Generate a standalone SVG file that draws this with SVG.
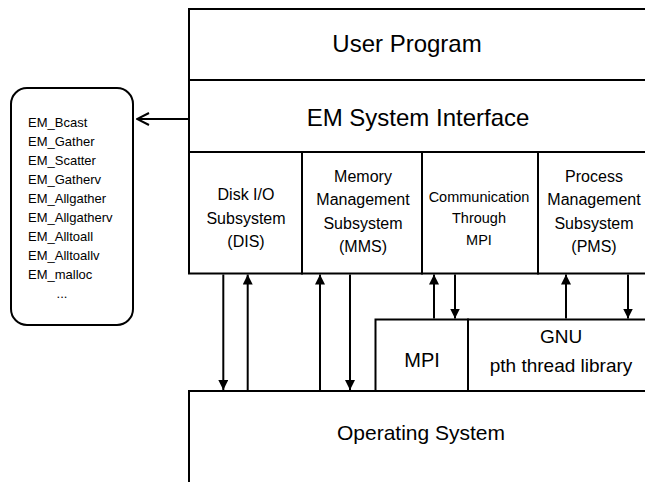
<svg xmlns="http://www.w3.org/2000/svg" width="645" height="482" viewBox="0 0 645 482">
<style>
  .box { fill: #fff; stroke: #000; stroke-width: 2; }
  .ln { stroke: #000; stroke-width: 2; fill: none; }
  text { font-family: "Liberation Sans", Arial, sans-serif; fill: #000; }
  .c { text-anchor: middle; }
  .big { font-size: 24px; }
  .sub { font-size: 16px; }
  .com { font-size: 14.5px; }
  .api { font-size: 13px; }
</style>
<defs>
  <marker id="tri" viewBox="0 0 10 10" refX="10" refY="5" markerWidth="10" markerHeight="10" markerUnits="userSpaceOnUse" orient="auto">
    <path d="M0,0 L10,5 L0,10 z" fill="#000"/>
  </marker>
  <marker id="open" viewBox="0 0 14 14" refX="13" refY="7" markerWidth="14" markerHeight="14" markerUnits="userSpaceOnUse" orient="auto">
    <path d="M1,1 L13,7 L1,13" fill="none" stroke="#000" stroke-width="2"/>
  </marker>
</defs>

<g id="api-list">
  <rect class="box" x="11" y="88" width="122" height="237" rx="16" ry="16"/>
  <text class="api" x="28" y="126.7">EM_Bcast</text>
  <text class="api" x="28" y="145.7">EM_Gather</text>
  <text class="api" x="28" y="164.7">EM_Scatter</text>
  <text class="api" x="28" y="183.7">EM_Gatherv</text>
  <text class="api" x="28" y="202.7">EM_Allgather</text>
  <text class="api" x="28" y="221.7">EM_Allgatherv</text>
  <text class="api" x="28" y="240.7">EM_Alltoall</text>
  <text class="api" x="28" y="259.7">EM_Alltoallv</text>
  <text class="api" x="28" y="278.7">EM_malloc</text>
  <text class="api c" x="62" y="298">...</text>
</g>

<g id="user-program">
  <rect class="box" x="189" y="9" width="470" height="71"/>
  <text class="big c" x="407" y="52">User Program</text>
</g>

<g id="em-interface">
  <rect class="box" x="189" y="80" width="470" height="72"/>
  <text class="big c" x="418" y="126">EM System Interface</text>
</g>

<g id="dis">
  <rect class="box" x="189" y="152" width="113" height="121.5"/>
  <text class="sub c" x="246" y="200">Disk I/O</text>
  <text class="sub c" x="246" y="223.5">Subsystem</text>
  <text class="sub c" x="246" y="247">(DIS)</text>
</g>

<g id="mms">
  <rect class="box" x="302" y="152" width="120" height="121.5"/>
  <text class="sub c" x="363" y="181.5">Memory</text>
  <text class="sub c" x="363" y="205">Management</text>
  <text class="sub c" x="363" y="228.5">Subsystem</text>
  <text class="sub c" x="363" y="252">(MMS)</text>
</g>

<g id="comm">
  <rect class="box" x="422" y="152" width="116" height="121.5"/>
  <text class="com c" x="479" y="201.5">Communication</text>
  <text class="com c" x="479" y="223">Through</text>
  <text class="com c" x="479" y="244.5">MPI</text>
</g>

<g id="pms">
  <rect class="box" x="538" y="152" width="121" height="121.5"/>
  <text class="sub c" x="594" y="181.5">Process</text>
  <text class="sub c" x="594" y="205">Management</text>
  <text class="sub c" x="594" y="228.5">Subsystem</text>
  <text class="sub c" x="594" y="252">(PMS)</text>
</g>

<g id="mpi">
  <rect class="box" x="375.5" y="319.5" width="92.5" height="71.5"/>
  <text class="c" x="422" y="367" font-size="20">MPI</text>
</g>

<g id="pth">
  <rect class="box" x="468" y="319.5" width="191" height="71.5"/>
  <text class="c" x="561" y="343" font-size="19">GNU</text>
  <text class="c" x="561" y="371.7" font-size="19">pth thread library</text>
</g>

<g id="os">
  <rect class="box" x="189" y="391" width="470" height="110"/>
  <text class="c" x="421" y="440" font-size="21">Operating System</text>
</g>

<g id="connectors">
  <line class="ln" x1="189" y1="119" x2="137" y2="119" marker-end="url(#open)"/>
  <line class="ln" x1="223.3" y1="274.5" x2="223.3" y2="390" marker-end="url(#tri)"/>
  <line class="ln" x1="247.7" y1="390" x2="247.7" y2="274.5" marker-end="url(#tri)"/>
  <line class="ln" x1="320" y1="390" x2="320" y2="274.5" marker-end="url(#tri)"/>
  <line class="ln" x1="350" y1="274.5" x2="350" y2="390" marker-end="url(#tri)"/>
  <line class="ln" x1="434" y1="318.5" x2="434" y2="274.5" marker-end="url(#tri)"/>
  <line class="ln" x1="455" y1="274.5" x2="455" y2="318.5" marker-end="url(#tri)"/>
  <line class="ln" x1="566" y1="318.5" x2="566" y2="274.5" marker-end="url(#tri)"/>
  <line class="ln" x1="628" y1="274.5" x2="628" y2="318.5" marker-end="url(#tri)"/>
</g>
</svg>
